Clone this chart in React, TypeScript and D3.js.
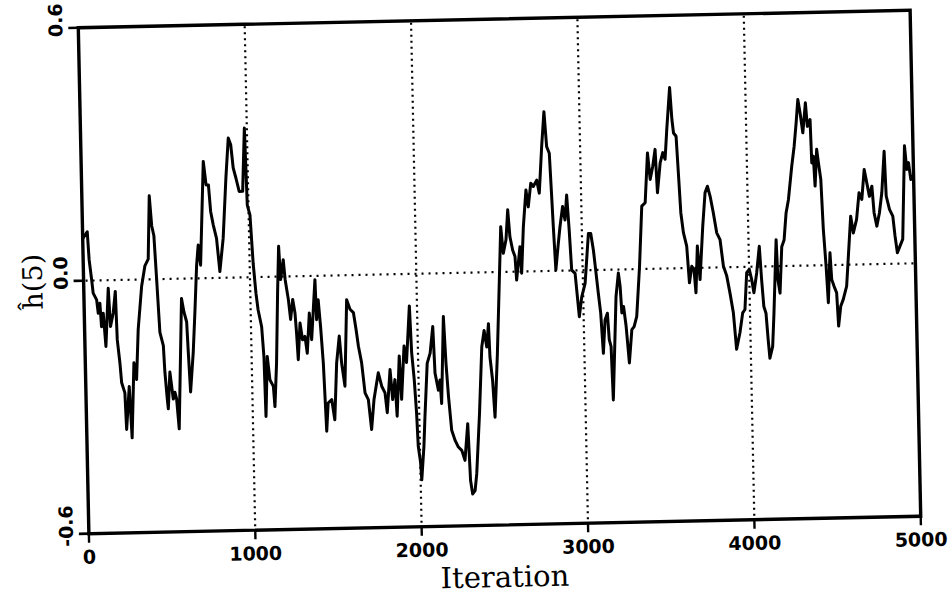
import React from 'react';
import * as d3 from 'd3';

const ITERATIONS = [
  0, 28, 36, 49, 56, 76, 84, 95, 102, 114, 126, 147, 156, 174, 189, 195, 208, 216, 234, 240,
  261, 272, 292, 306, 322, 348, 370, 391, 405, 416, 428, 439, 452, 471, 477, 488, 493, 507, 524, 535,
  544, 556, 586, 599, 614, 620, 629, 650, 665, 681, 693, 705, 734, 748, 762, 772, 786, 804, 820, 844,
  868, 887, 901, 913, 928, 946, 967, 985, 993, 1008,
  1021, 1034, 1045, 1064, 1074, 1079, 1094, 1107, 1127, 1134, 1149, 1164, 1176, 1184, 1202, 1211, 1228, 1239, 1254, 1266,
  1273, 1280, 1295, 1308, 1323, 1335, 1352, 1363, 1390, 1395, 1407, 1418, 1430, 1442, 1454, 1476, 1492, 1510, 1529, 1540,
  1557, 1578, 1597, 1617, 1631, 1643, 1660, 1677, 1696, 1712, 1730, 1759, 1778, 1797, 1808, 1830, 1842, 1858, 1867, 1887,
  1896, 1917, 1930, 1954, 1962, 1974, 1984, 1990, 2002, 2007,
  2024, 2034, 2054, 2073, 2092, 2100, 2118, 2129, 2136, 2157, 2167, 2178, 2193, 2212, 2231, 2251, 2269, 2290, 2300, 2311,
  2326, 2338, 2362, 2384, 2400, 2414, 2427, 2432, 2445, 2455, 2477, 2498, 2513, 2525, 2543, 2557, 2567, 2582, 2595, 2602,
  2626, 2633, 2649, 2669, 2681, 2699, 2714, 2735, 2749, 2769, 2787, 2799, 2814, 2823, 2829, 2839, 2857, 2869, 2887, 2900,
  2913, 2924, 2934, 2954, 2974, 2991, 3013, 3039, 3053, 3067,
  3080, 3091, 3103, 3114, 3128, 3143, 3151, 3161, 3168, 3197, 3214, 3223, 3230, 3241, 3254, 3269, 3288, 3302, 3319, 3342,
  3363, 3384, 3404, 3417, 3434, 3450, 3459, 3479, 3496, 3509, 3523, 3545, 3555, 3563, 3578, 3587, 3597, 3610, 3628, 3640,
  3656, 3669, 3678, 3692, 3704, 3727, 3745, 3760, 3775, 3792, 3810, 3829, 3846, 3865, 3882, 3900, 3915, 3937, 3956, 3970,
  3985, 4001, 4014, 4026, 4045, 4064,
  4074, 4084, 4096, 4106, 4114, 4132, 4144, 4166, 4172, 4183, 4199, 4214, 4229, 4245, 4269, 4286, 4301, 4314, 4326, 4340,
  4359, 4368, 4385, 4390, 4400, 4407, 4421, 4430, 4442, 4451, 4463, 4472, 4488, 4495, 4508, 4523, 4531, 4546, 4562, 4584,
  4606, 4617, 4631, 4652, 4670, 4686, 4704, 4718, 4732, 4748, 4758, 4773, 4790, 4807, 4826, 4833, 4851, 4870, 4881, 4893,
  4910, 4927, 4949, 4960, 4971, 4983, 5000,
];

const H5_VALUES = [
  0.10, 0.116, 0.049, 0.00, -0.030, -0.046, -0.078, -0.054, -0.110, -0.078, -0.157, -0.019, -0.110, -0.078, -0.027, -0.142, -0.197, -0.244, -0.268, -0.355,
  -0.253, -0.375, -0.197, -0.237, -0.118, -0.016, 0.032, 0.048, 0.198, 0.127, 0.103, 0.000, -0.126, -0.158, -0.221, -0.285, -0.308, -0.221, -0.285, -0.269,
  -0.285, -0.356, -0.047, -0.079, -0.103, -0.174, -0.269, -0.174, -0.079, 0.031, 0.079, 0.031, 0.277, 0.221, 0.221, 0.158, 0.126, 0.094, 0.015, 0.094,
  0.237, 0.331, 0.315, 0.260, 0.236, 0.204, 0.204, 0.354, 0.171, 0.147,
  0.033, -0.038, -0.078, -0.118, -0.189, -0.331, -0.189, -0.244, -0.260, -0.308, -0.205, -0.039, 0.072, -0.007, 0.040, -0.007, -0.055, -0.102, -0.055, -0.087,
  -0.134, -0.198, -0.111, -0.151, -0.143, -0.183, -0.088, -0.151, -0.009, -0.104, -0.057, -0.120, -0.207, -0.369, -0.302, -0.294, -0.342, -0.208, -0.144, -0.208,
  -0.263, -0.058, -0.081, -0.089, -0.129, -0.169, -0.208, -0.280, -0.296, -0.367, -0.296, -0.233, -0.265, -0.281, -0.328, -0.226, -0.297, -0.250, -0.337, -0.194,
  -0.297, -0.171, -0.210, -0.076, -0.187, -0.250, -0.330, -0.409, -0.448, -0.489,
  -0.410, -0.339, -0.213, -0.189, -0.126, -0.237, -0.277, -0.253, -0.309, -0.103, -0.214, -0.293, -0.373, -0.397, -0.413, -0.421, -0.445, -0.358, -0.493, -0.525,
  -0.517, -0.477, -0.335, -0.177, -0.138, -0.177, -0.122, -0.201, -0.257, -0.344, -0.194, -0.019, 0.107, 0.044, 0.076, 0.147, 0.083, 0.051, 0.036, -0.020,
  0.059, -0.004, 0.106, 0.193, 0.153, 0.209, 0.201, 0.216, 0.185, 0.295, 0.378, 0.295, 0.279, 0.176, 0.105, 0.002, 0.065, 0.104, 0.152, 0.120,
  0.179, 0.096, 0.001, -0.007, -0.110, -0.063, -0.031, 0.087, 0.087, 0.047,
  -0.008, -0.055, -0.103, -0.198, -0.119, -0.103, -0.166, -0.182, -0.309, -0.064, -0.008, -0.040, -0.103, -0.088, -0.135, -0.222, -0.143, -0.136, -0.112, 0.006,
  0.149, 0.157, 0.275, 0.212, 0.243, 0.283, 0.180, 0.251, 0.275, 0.259, 0.330, 0.429, 0.353, 0.321, 0.313, 0.227, 0.131, 0.084, 0.052, -0.035,
  0.004, -0.004, -0.059, 0.052, -0.028, 0.099, 0.178, 0.193, 0.169, 0.130, 0.082, 0.066, 0.003, -0.021, -0.061, -0.108, -0.195, -0.156, -0.109, -0.101,
  -0.014, -0.006, -0.030, -0.062, -0.015, 0.048,
  -0.032, -0.095, -0.111, -0.175, -0.218, -0.190, -0.111, 0.063, -0.032, -0.064, 0.046, 0.062, 0.125, 0.157, 0.236, 0.283, 0.339, 0.394, 0.362, 0.315,
  0.386, 0.330, 0.346, 0.243, 0.259, 0.188, 0.275, 0.243, 0.204, 0.085, -0.002, -0.089, 0.029, -0.034, -0.050, -0.066, -0.145, -0.098, -0.082, -0.051,
  0.060, 0.115, 0.075, 0.107, 0.170, 0.154, 0.225, 0.193, 0.161, 0.185, 0.122, 0.090, 0.121, 0.169, 0.267, 0.161, 0.129, 0.113, 0.066, 0.026,
  0.042, 0.058, 0.279, 0.223, 0.239, 0.199, 0.210,
];

const X_TICKS = [0, 1000, 2000, 3000, 4000, 5000];
const X_GRID = [1000, 2000, 3000, 4000];
const Y_TICKS = [0.6, 0.0, -0.6];
const Y_TICK_LABELS = ['0.6', '0.0', '-0.6'];
const X_TITLE = 'Iteration';
const Y_TITLE = 'ĥ(5)';

export default function App() {
  const W = 952;
  const H = 597;
  const left = 83.5;
  const right = 915.5;
  const top = 19;
  const bottom = 525;
  const cx = (left + right) / 2;
  const cy = (top + bottom) / 2;

  const x = d3.scaleLinear().domain([0, 5000]).range([left, right]);
  const y = d3.scaleLinear().domain([-0.6, 0.6]).range([bottom, top]);

  const pts: [number, number][] = ITERATIONS.map((it, i) => [it, H5_VALUES[i]]);
  const line = d3
    .line<[number, number]>()
    .x((d) => x(d[0]))
    .y((d) => y(d[1]));

  const tickFont = { fontFamily: 'DejaVu Sans', fontWeight: 700, fontSize: 19 } as const;

  return (
    <svg
      width={W}
      height={H}
      style={{ position: 'absolute', left: 0, top: 0, background: '#fff' }}
    >
      <rect x={0} y={0} width={W} height={H} fill="#fff" />
      <g transform={`rotate(-1.2 ${cx} ${cy})`}>
        {/* dotted grid */}
        {X_GRID.map((g) => (
          <line
            key={'gx' + g}
            x1={x(g)}
            x2={x(g)}
            y1={top + 2}
            y2={bottom - 2}
            stroke="#000"
            strokeWidth={2.2}
            strokeDasharray="2 4"
          />
        ))}
        <line
          x1={left + 2}
          x2={right - 2}
          y1={y(0)}
          y2={y(0)}
          stroke="#000"
          strokeWidth={2.2}
          strokeDasharray="2 5"
        />

        {/* data line */}
        <path
          d={line(pts) || ''}
          fill="none"
          stroke="#000"
          strokeWidth={3}
          strokeLinejoin="round"
          strokeLinecap="round"
        />

        {/* frame */}
        <rect
          x={left}
          y={top}
          width={right - left}
          height={bottom - top}
          fill="none"
          stroke="#000"
          strokeWidth={3.4}
        />

        {/* x ticks */}
        {X_TICKS.map((t) => (
          <g key={'xt' + t}>
            <line x1={x(t)} x2={x(t)} y1={bottom} y2={bottom + 9} stroke="#000" strokeWidth={2.4} />
            <text x={x(t)} y={bottom + 30} textAnchor="middle" {...tickFont} fill="#000">
              {t}
            </text>
          </g>
        ))}

        {/* y ticks */}
        {Y_TICKS.map((t, i) => (
          <g key={'yt' + t}>
            <line x1={left - 10} x2={left} y1={y(t)} y2={y(t)} stroke="#000" strokeWidth={2.6} />
            <text
              transform={`translate(${left - 16}, ${y(t) - 8}) rotate(-90)`}
              textAnchor="middle"
              {...tickFont}
              fill="#000"
            >
              {Y_TICK_LABELS[i]}
            </text>
          </g>
        ))}

        {/* titles */}
        <text
          x={cx - 1}
          y={587}
          textAnchor="middle"
          fontFamily="DejaVu Serif"
          fontSize={29}
          fill="#000"
        >
          {X_TITLE}
        </text>
        <text
          transform={`translate(42, ${y(0)}) rotate(-90)`}
          textAnchor="middle"
          fontFamily="DejaVu Serif"
          fontSize={27}
          fill="#000"
        >
          {Y_TITLE}
        </text>
      </g>
    </svg>
  );
}
